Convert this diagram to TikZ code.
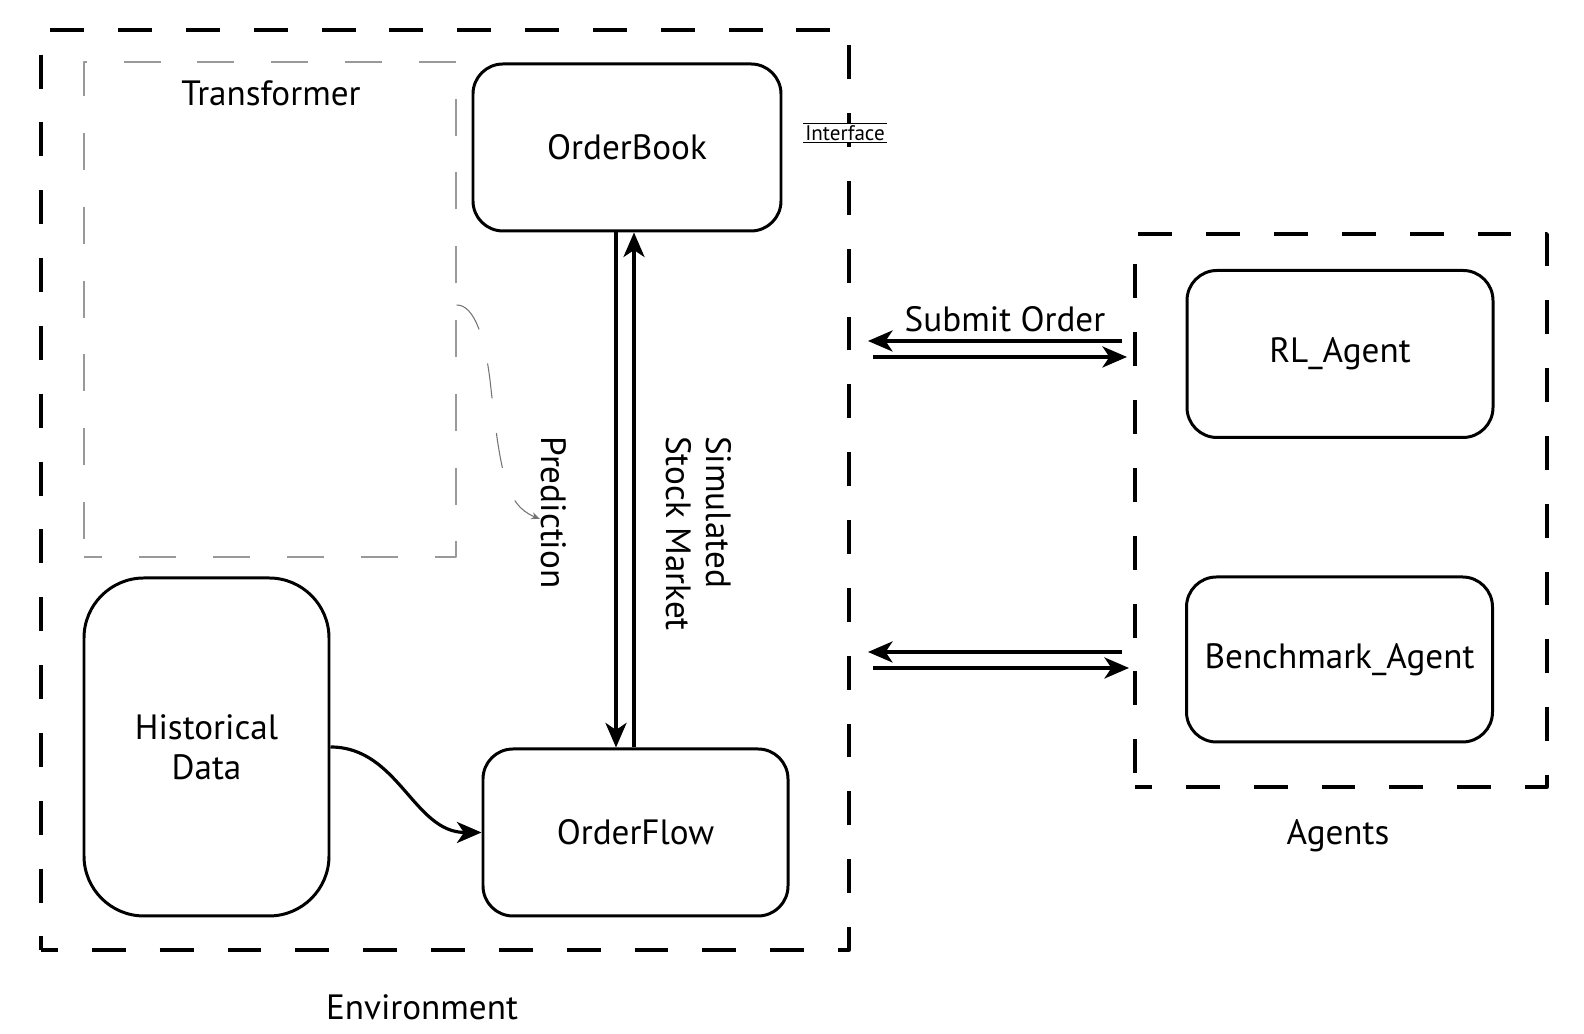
\documentclass[tikz,border=0pt]{standalone}
\usepackage{fontspec}
\setmainfont{PT Sans}
\usetikzlibrary{arrows.meta,positioning,calc}
\begin{document}
\begin{tikzpicture}[font=\fontsize{20}{22.9}\selectfont, line join=round, >={Stealth[length=14pt,width=12pt,inset=4pt]},
	blk/.style={draw, line width=1.7pt, rounded corners=0.6cm, minimum width=6.12cm, minimum height=3.34cm},
	grp/.style={draw, line width=1.9pt, dash pattern=on 19.3pt off 19.3pt, dash phase=9.65pt},
	flow/.style={->, line width=1.8pt}]
	\useasboundingbox (0,0) rectangle (31.68,20.68);
	% groups
	\node[grp, minimum width=16.16cm, minimum height=18.4cm] (env) at (8.9,10.88) {};
	\node[draw=black!40, line width=0.8pt, dash pattern=on 21pt off 21pt, dash phase=10.5pt, minimum width=7.44cm, minimum height=9.9cm] (trans) at (5.4,14.49) {};
	\node[grp, minimum width=8.24cm, minimum height=11.06cm] (agents) at (26.82,10.47) {};
	\node at (5.42,18.82) {Transformer};
	\node at (8.44,0.54) {Environment};
	\node at (26.76,3.96) {Agents};
	\node[fill=white, inner sep=1pt, font=\fontsize{12}{14}\selectfont] (iface) at (16.9,18.02) {Interface};
	\draw[line width=0.8pt] (iface.north west) -- (iface.north east) (iface.south west) -- (iface.south east);
	% blocks
	\node[blk, minimum width=6.16cm] (book) at (12.54,17.73) {OrderBook};
	\node[blk, minimum width=6.1cm] (oflow) at (12.71,4.03) {OrderFlow};
	\node[blk, rounded corners=1.2cm, minimum width=4.9cm, minimum height=6.76cm, align=center] (hist) at (4.13,5.74) {Historical\\Data};
	\node[blk] (rl) at (26.8,13.6) {RL\_Agent};
	\node[blk, minimum height=3.3cm] (bench) at (26.79,7.49) {Benchmark\_Agent};
	% market
	\draw[flow] ([xshift=-0.22cm]book.south) -- ([xshift=-0.22cm]book.south |- oflow.north);
	\draw[flow] ([xshift=0.14cm]book.south |- oflow.north) -- ([xshift=0.14cm]book.south);
	\node[rotate=-90, anchor=west, align=left, inner sep=0pt] (sim) at (13.98,11.96) {Simulated\\Stock Market};
	\node[rotate=-90, inner sep=0pt] (pred) at (11.08,10.43) {Prediction};
	\coordinate (predend) at (10.8,10.3);
	\draw[black!55, line width=0.6pt, dash pattern=on 20pt off 20pt, -{Stealth[length=5pt,width=4pt]}]
		([yshift=0.09cm]trans.east) .. controls (9.5,14.58) and (9.7,13.88) .. (9.8,13.08)
		.. controls (10.0,11.28) and (10.1,10.58) .. (predend);
	\draw[flow] (hist.east) to[out=0, in=180] (oflow.west);
	% orders
	\coordinate (ea) at (17.36,13.86); \coordinate (eb) at (17.46,13.54);
	\coordinate (aa) at (22.44,13.86); \coordinate (ab) at (22.54,13.54);
	\coordinate (ec) at (17.36,7.64);  \coordinate (ed) at (17.46,7.32);
	\coordinate (ac) at (22.44,7.64);  \coordinate (ad) at (22.58,7.32);
	\draw[flow] (aa) -- (ea);
	\draw[flow] (eb) -- (ab);
	\draw[flow] (ac) -- (ec);
	\draw[flow] (ed) -- (ad);
	\node at (20.1,14.3) {Submit Order};
\end{tikzpicture}
\end{document}
